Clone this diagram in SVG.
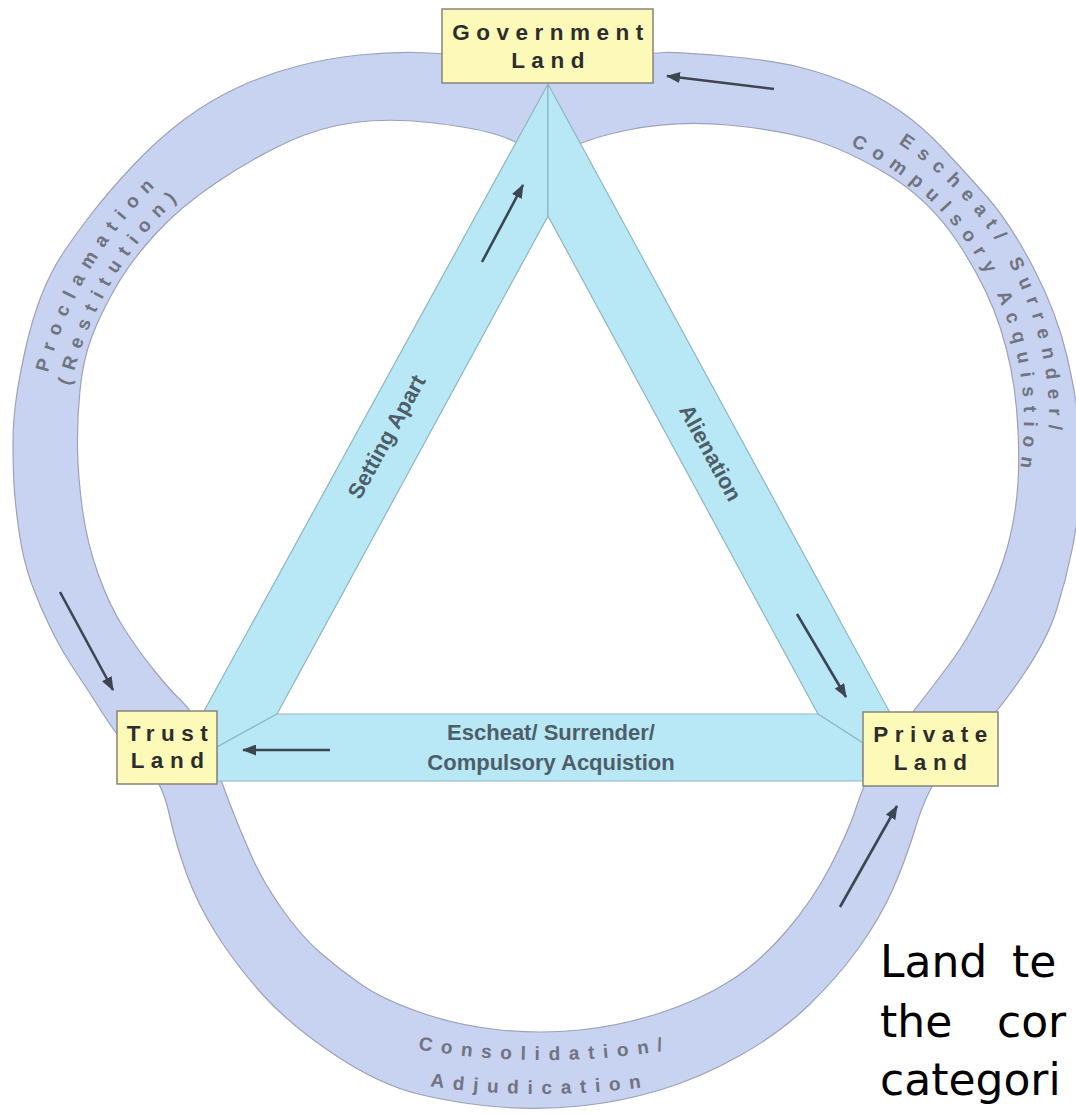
<svg xmlns="http://www.w3.org/2000/svg" width="1076" height="1115" viewBox="0 0 1076 1115">
<defs>
<style>
.ring{fill:#c8d2f1;stroke:#9ba3b8;stroke-width:1.2;fill-rule:evenodd}
.band{fill:#b8e8f5;stroke:#8fb6c0;stroke-width:1.2;stroke-linejoin:miter}
.arr{stroke:#3c4653;stroke-width:2.6;fill:none;marker-end:url(#ah)}
.rt{font-family:"Liberation Sans",Arial,sans-serif;font-weight:bold;font-size:19px;fill:#6f747f;letter-spacing:8.8px;text-anchor:middle}
.tl{font-family:"Liberation Sans",Arial,sans-serif;font-weight:bold;font-size:22px;fill:#4e5e69;text-anchor:middle}
.box{fill:#fdfab9;stroke:#85857a;stroke-width:1.5}
.bt{font-family:"Liberation Sans",Arial,sans-serif;font-weight:bold;font-size:22.5px;fill:#2d2d2d;letter-spacing:6.5px;text-anchor:middle}
.note{font-family:"DejaVu Sans",Verdana,sans-serif;font-size:44px;fill:#000}
</style>
<marker id="ah" markerUnits="userSpaceOnUse" markerWidth="14" markerHeight="11" refX="13" refY="5.5" orient="auto"><path d="M0,0 L14,5.5 L0,11 Z" fill="#3c4653"/></marker>
<path id="pL1" d="M37.5 503.4 A395 395 0 0 1 270.3 108.2"/>
<path id="pL2" d="M62.4 501.2 A370 370 0 0 1 280.5 131"/>
<path id="pR1" d="M805.2 102.2 A329 329 0 0 1 1027.2 537.9"/>
<path id="pR2" d="M798.7 126.4 A304 304 0 0 1 1003.8 528.9"/>
<path id="pB1" d="M400 1046 A750 750 0 0 0 690 1046"/>
<path id="pB2" d="M390 1079.6 A790 790 0 0 0 690 1079.6"/>
</defs>
<rect width="1076" height="1115" fill="#ffffff"/>
<g id="connectors">
<path class="ring" d="M574 67.5 Q548 75 524 67.5 Q500 60 471 56.5 Q442 53 415.5 52.5 Q389 52 359.5 55 Q330 58 300 65.5 Q270 73 240 86.5 Q210 100 183.5 120 Q157 140 133.5 165 Q110 190 92.5 212.5 Q75 235 62.5 254 Q50 273 41 296.5 Q32 320 26 346.5 Q20 373 16.5 396.5 Q13 420 13 442.5 Q13 465 14 484 Q15 503 19 531.5 Q23 560 31.5 583.5 Q40 607 51.5 630 Q63 653 76.5 673 Q90 693 102.5 713 Q115 733 127.5 746.5 Q140 760 151.5 773 Q163 786 169.5 815.5 Q176 845 187 875 Q198 905 217 935 Q236 965 263 995 Q290 1025 335 1055 Q380 1085 420 1094.5 Q460 1104 500 1107 Q540 1110 580 1106 Q620 1102 660 1090 Q700 1078 740 1055.5 Q780 1033 809 1005 Q838 977 859 947.5 Q880 918 892.5 890 Q905 862 916 826 Q927 790 943.5 769 Q960 748 979 730 Q998 712 1022.5 676 Q1047 640 1056.5 610 Q1066 580 1072 550 Q1078 520 1080 490 Q1082 460 1079.5 430 Q1077 400 1067 356.5 Q1057 313 1033.5 268 Q1010 223 987.5 197.5 Q965 172 944 149.5 Q923 127 901.5 112 Q880 97 855 86 Q830 75 801 67.5 Q772 60 724 56 Q676 52 664.5 52.5 Q653 53 626.5 56.5 Q600 60 574 67.5 Z M564 152.5 Q548 165 532 152.5 Q516 140 493 133.5 Q470 127 429.5 122.5 Q389 118 354.5 122.5 Q320 127 286.5 142.5 Q253 158 216.5 182.5 Q180 207 155 234.5 Q130 262 115 288.5 Q100 315 91.5 337.5 Q83 360 80 390 Q77 420 77.5 448.5 Q78 477 82.5 510 Q87 543 98.5 575 Q110 607 125 630 Q140 653 155 671.5 Q170 690 181 700.5 Q192 711 201 729.5 Q210 748 216.5 767 Q223 786 231.5 808 Q240 830 251 855 Q262 880 281 907.5 Q300 935 320 952.5 Q340 970 362 985 Q384 1000 422 1013 Q460 1026 500 1030 Q540 1034 580 1030 Q620 1026 660 1013 Q700 1000 730 981 Q760 962 786.5 931 Q813 900 831 865 Q849 830 856 808 Q863 786 874 765.5 Q885 745 899 728.5 Q913 712 926.5 694.5 Q940 677 953.5 658.5 Q967 640 983.5 607.5 Q1000 575 1008 545 Q1016 515 1018 482.5 Q1020 450 1016.5 408.5 Q1013 367 1000 327 Q987 287 958.5 243.5 Q930 200 888.5 175 Q847 150 813.5 140 Q780 130 728 125 Q676 120 628 130 Q580 140 564 152.5 Z"/>
<polygon class="band" points="548,84 198,722 217,747 277,714 548,216"/>
<polygon class="band" points="548,84 895,722 863,743 818,714 548,216"/>
<polygon class="band" points="277,714 818,714 863,743 863,781 217,781 217,747"/>
<line class="arr" x1="774" y1="89" x2="667" y2="76"/>
<line class="arr" x1="482" y1="262" x2="523" y2="185"/>
<line class="arr" x1="797" y1="614" x2="846" y2="697"/>
<line class="arr" x1="330" y1="750" x2="243" y2="750"/>
<line class="arr" x1="60" y1="592" x2="113" y2="690"/>
<line class="arr" x1="840" y1="907" x2="897" y2="806"/>
<text class="rt"><textPath href="#pL1" startOffset="50%">Proclamation</textPath><textPath href="#pL2" startOffset="50%">(Restitution)</textPath></text>
<text class="rt"><textPath href="#pR1" startOffset="50%">Escheat/ Surrender/</textPath><textPath href="#pR2" startOffset="50%">Compulsory Acquistion</textPath></text>
<text class="rt"><textPath href="#pB1" startOffset="50%">Consolidation/</textPath><textPath href="#pB2" startOffset="50%">Adjudication</textPath></text>
<text class="tl" transform="translate(387,437) rotate(-61.2)" x="0" y="7">Setting Apart</text>
<text class="tl" transform="translate(710,453) rotate(61.4)" x="0" y="7">Alienation</text>
<text class="tl" x="551" y="740">Escheat/ Surrender/</text>
<text class="tl" x="551" y="770">Compulsory Acquistion</text>
</g>
<g id="node-gov">
<rect class="box" x="442" y="9" width="211" height="74"/>
<text class="bt" x="551" y="40">Government</text>
<text class="bt" x="551" y="68">Land</text>
</g>
<g id="node-trust">
<rect class="box" x="117" y="711" width="100" height="73"/>
<text class="bt" x="170.5" y="741">Trust</text>
<text class="bt" x="170.5" y="768">Land</text>
</g>
<g id="node-private">
<rect class="box" x="863" y="712" width="135" height="74"/>
<text class="bt" x="933.5" y="742">Private</text>
<text class="bt" x="933.5" y="770">Land</text>
</g>
<g id="note">
<text class="note"><tspan x="880" y="977">Land</tspan><tspan x="1012" y="977">te</tspan></text>
<text class="note"><tspan x="880" y="1037">the</tspan><tspan x="997" y="1037">cor</tspan></text>
<text class="note" x="880" y="1095">categori</text>
</g>
</svg>
